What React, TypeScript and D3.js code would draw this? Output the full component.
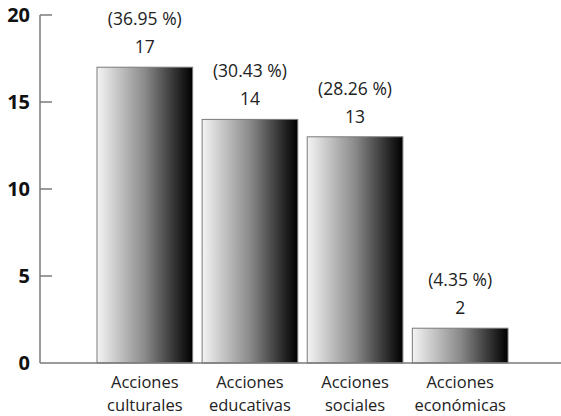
import React from "react";
import * as d3 from "d3";

const categories = [["Acciones", "culturales"], ["Acciones", "educativas"], ["Acciones", "sociales"], ["Acciones", "económicas"]];
const values = [17, 14, 13, 2];
const percents = ["(36.95 %)", "(30.43 %)", "(28.26 %)", "(4.35 %)"];
const yTicks = [0, 5, 10, 15, 20];

export default function App() {
  const W = 561, H = 416;
  const x0 = 40, xEnd = 561;
  const y = d3.scaleLinear().domain([0, 20]).range([363, 15]);
  const x = d3.scaleBand<number>().domain(d3.range(values.length)).range([97, 508]).paddingInner(0.09).paddingOuter(0);
  const font = "'Open Sans', 'Noto Sans', sans-serif";
  const axisColor = "#7a7a7a";
  return (
    <svg width={W} height={H} style={{ position: "absolute", left: 0, top: 0, background: "#fff" }} fontFamily={font}>
      <defs>
        <linearGradient id="barGrad" x1="0" x2="1" y1="0" y2="0">
          <stop offset="0" stopColor="#f4f4f4" />
          <stop offset="0.5" stopColor="#8a8a8a" />
          <stop offset="0.9" stopColor="#1a1a1a" />
          <stop offset="1" stopColor="#000" />
        </linearGradient>
      </defs>
      {values.map((v, i) => (
        <rect key={i} x={x(i)} y={y(v)} width={x.bandwidth()} height={y(0) - y(v)} fill="url(#barGrad)" stroke={axisColor} strokeWidth={1} />
      ))}
      <line x1={x0} x2={x0} y1={y(20)} y2={y(0)} stroke={axisColor} strokeWidth={1.5} />
      <line x1={x0} x2={xEnd} y1={y(0)} y2={y(0)} stroke={axisColor} strokeWidth={1.5} />
      {yTicks.map((t) => (
        <g key={t}>
          {t > 0 && <line x1={x0} x2={x0 + 12} y1={y(t)} y2={y(t)} stroke={axisColor} strokeWidth={1.5} />}
          <text x={30} y={y(t) + 7} textAnchor="end" fontSize={20} fontWeight="bold" fill="#111">{t}</text>
        </g>
      ))}
      {values.map((v, i) => {
        const cx = (x(i) as number) + x.bandwidth() / 2;
        return (
          <g key={i} fill="#222" textAnchor="middle">
            <text x={cx} y={y(v) - 42} fontSize={17.5}>{percents[i]}</text>
            <text x={cx} y={y(v) - 14} fontSize={17.5}>{v}</text>
            <text x={cx} y={388} fontSize={16.5}>{categories[i][0]}</text>
            <text x={cx} y={411} fontSize={16.5}>{categories[i][1]}</text>
          </g>
        );
      })}
    </svg>
  );
}
